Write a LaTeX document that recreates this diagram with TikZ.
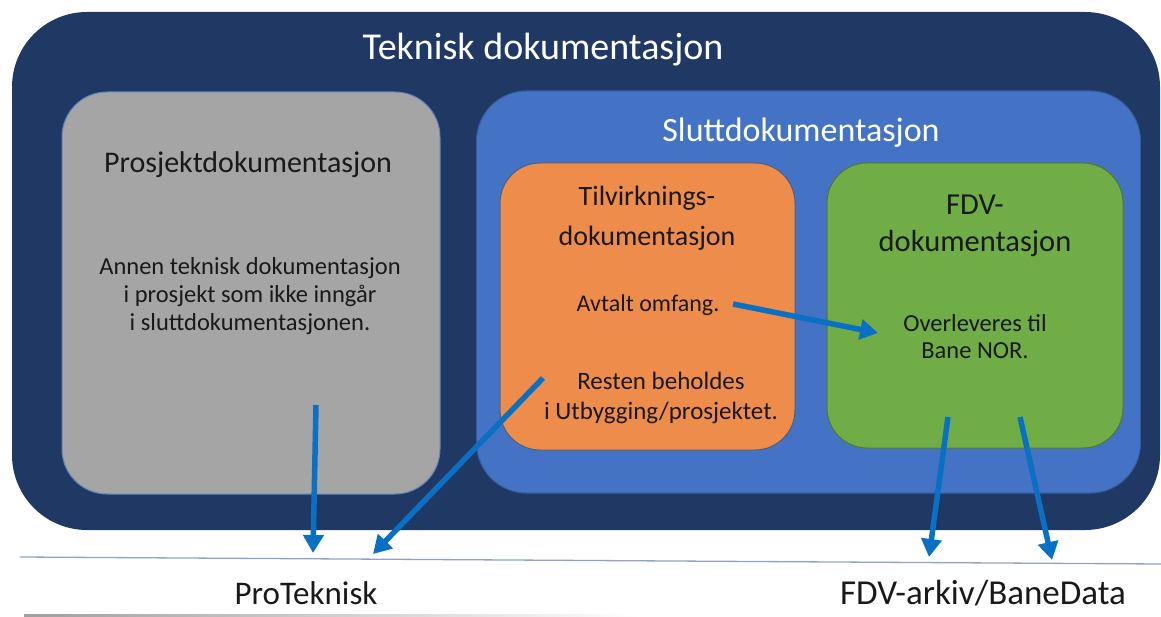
\documentclass[tikz,border=0pt]{standalone}
\usepackage{fontspec}
\setmainfont{Carlito}
\usepackage{xcolor}
\usetikzlibrary{arrows.meta, positioning}

\definecolor{navy}{HTML}{203864}
\definecolor{slutt}{HTML}{4472C4}
\definecolor{tilv}{HTML}{EE8D4B}
\definecolor{fdv}{HTML}{70AD47}
\definecolor{prosj}{HTML}{A5A5A5}
\definecolor{pil}{HTML}{0A70C4}
\definecolor{strek}{HTML}{8FA3C8}

\begin{document}
\begin{tikzpicture}[x=1pt, y=-1pt, >={Triangle[width=20pt,length=18pt]},
    boks/.style={inner sep=0pt, line width=1pt},
    tekst/.style={align=center, text=black!90, inner sep=0pt},
    pilstrek/.style={->, draw=pil, line width=5.5pt}]
  \useasboundingbox (0,0) rectangle (1161,617);

  % boxes
  \node[boks, fill=navy, minimum width=1148pt, minimum height=518pt, rounded corners=75pt] (teknisk) at (586,271) {};
  \node[boks, fill=prosj, draw=slutt!70!prosj, minimum width=378pt, minimum height=402pt, rounded corners=45pt] (prosjekt) at (251,293) {};
  \node[boks, fill=slutt, draw=slutt!80!black, minimum width=664pt, minimum height=402pt, rounded corners=50pt] (slutt) at (808.5,292) {};
  \node[boks, fill=tilv, draw=navy!80, minimum width=295pt, minimum height=287pt, rounded corners=40pt] (tilvirk) at (647.5,306.5) {};
  \node[boks, fill=fdv, draw=fdv!70!black, minimum width=296pt, minimum height=285pt, rounded corners=40pt] (fdvboks) at (975,305.5) {};

  % texts
  \node[tekst, text=white, font=\fontsize{38}{44}\selectfont] (tittel) at (543,50) {Teknisk dokumentasjon};
  \node[tekst, font=\fontsize{30}{36}\selectfont] (prosjtittel) at (248,165) {Prosjektdokumentasjon};
  \node[tekst, font=\fontsize{24.5}{28}\selectfont] (annen) at (250,296) {Annen teknisk dokumentasjon\\i prosjekt som ikke inngår\\i sluttdokumentasjonen.};
  \node[tekst, text=white, font=\fontsize{34}{40}\selectfont] (slutttittel) at (801,133) {Sluttdokumentasjon};
  \node[tekst, font=\fontsize{28}{40}\selectfont] (tilvtittel) at (647,218) {Tilvirknings-\\dokumentasjon};
  \node[tekst, font=\fontsize{24}{28}\selectfont] (avtalt) at (648,305) {Avtalt omfang.};
  \node[tekst, font=\fontsize{25}{30}\selectfont] (resten) at (661,398) {Resten beholdes\\i Utbygging/prosjektet.};
  \node[tekst, font=\fontsize{30.5}{37}\selectfont] (fdvtittel) at (975,226) {FDV-\\dokumentasjon};
  \node[tekst, font=\fontsize{24.5}{27}\selectfont] (overlev) at (975,337) {Overleveres til\\Bane NOR.};
  \node[tekst, font=\fontsize{33}{38}\selectfont] (proteknisk) at (306,593) {ProTeknisk};
  \node[tekst, font=\fontsize{35}{40}\selectfont] (fdvarkiv) at (983,593) {FDV-arkiv/BaneData};

  % base lines
  \coordinate (linjeV) at (20,557);
  \coordinate (linjeH) at (1161,564);
  \draw[strek, line width=1.3pt] (linjeV) -- (linjeH);
  \shade[left color=gray!75, right color=white] (24,614) rectangle (640,617);

  % arrow ends
  \coordinate (prosjUt) at (316,405);
  \coordinate (proInn1) at (313,553);
  \coordinate (restUt) at (543,378);
  \coordinate (proInn2) at (373,554);
  \coordinate (avtUt) at (733,304);
  \coordinate (overInn) at (878,333);
  \coordinate (fdvUt1) at (948,417);
  \coordinate (arkInn1) at (929,557);
  \coordinate (fdvUt2) at (1020,417);
  \coordinate (arkInn2) at (1052,560);

  \draw[pilstrek] (prosjUt) -- (proInn1);
  \draw[pilstrek] (restUt) -- (proInn2);
  \draw[pilstrek] (avtUt) -- (overInn);
  \draw[pilstrek] (fdvUt1) -- (arkInn1);
  \draw[pilstrek] (fdvUt2) -- (arkInn2);
\end{tikzpicture}
\end{document}
